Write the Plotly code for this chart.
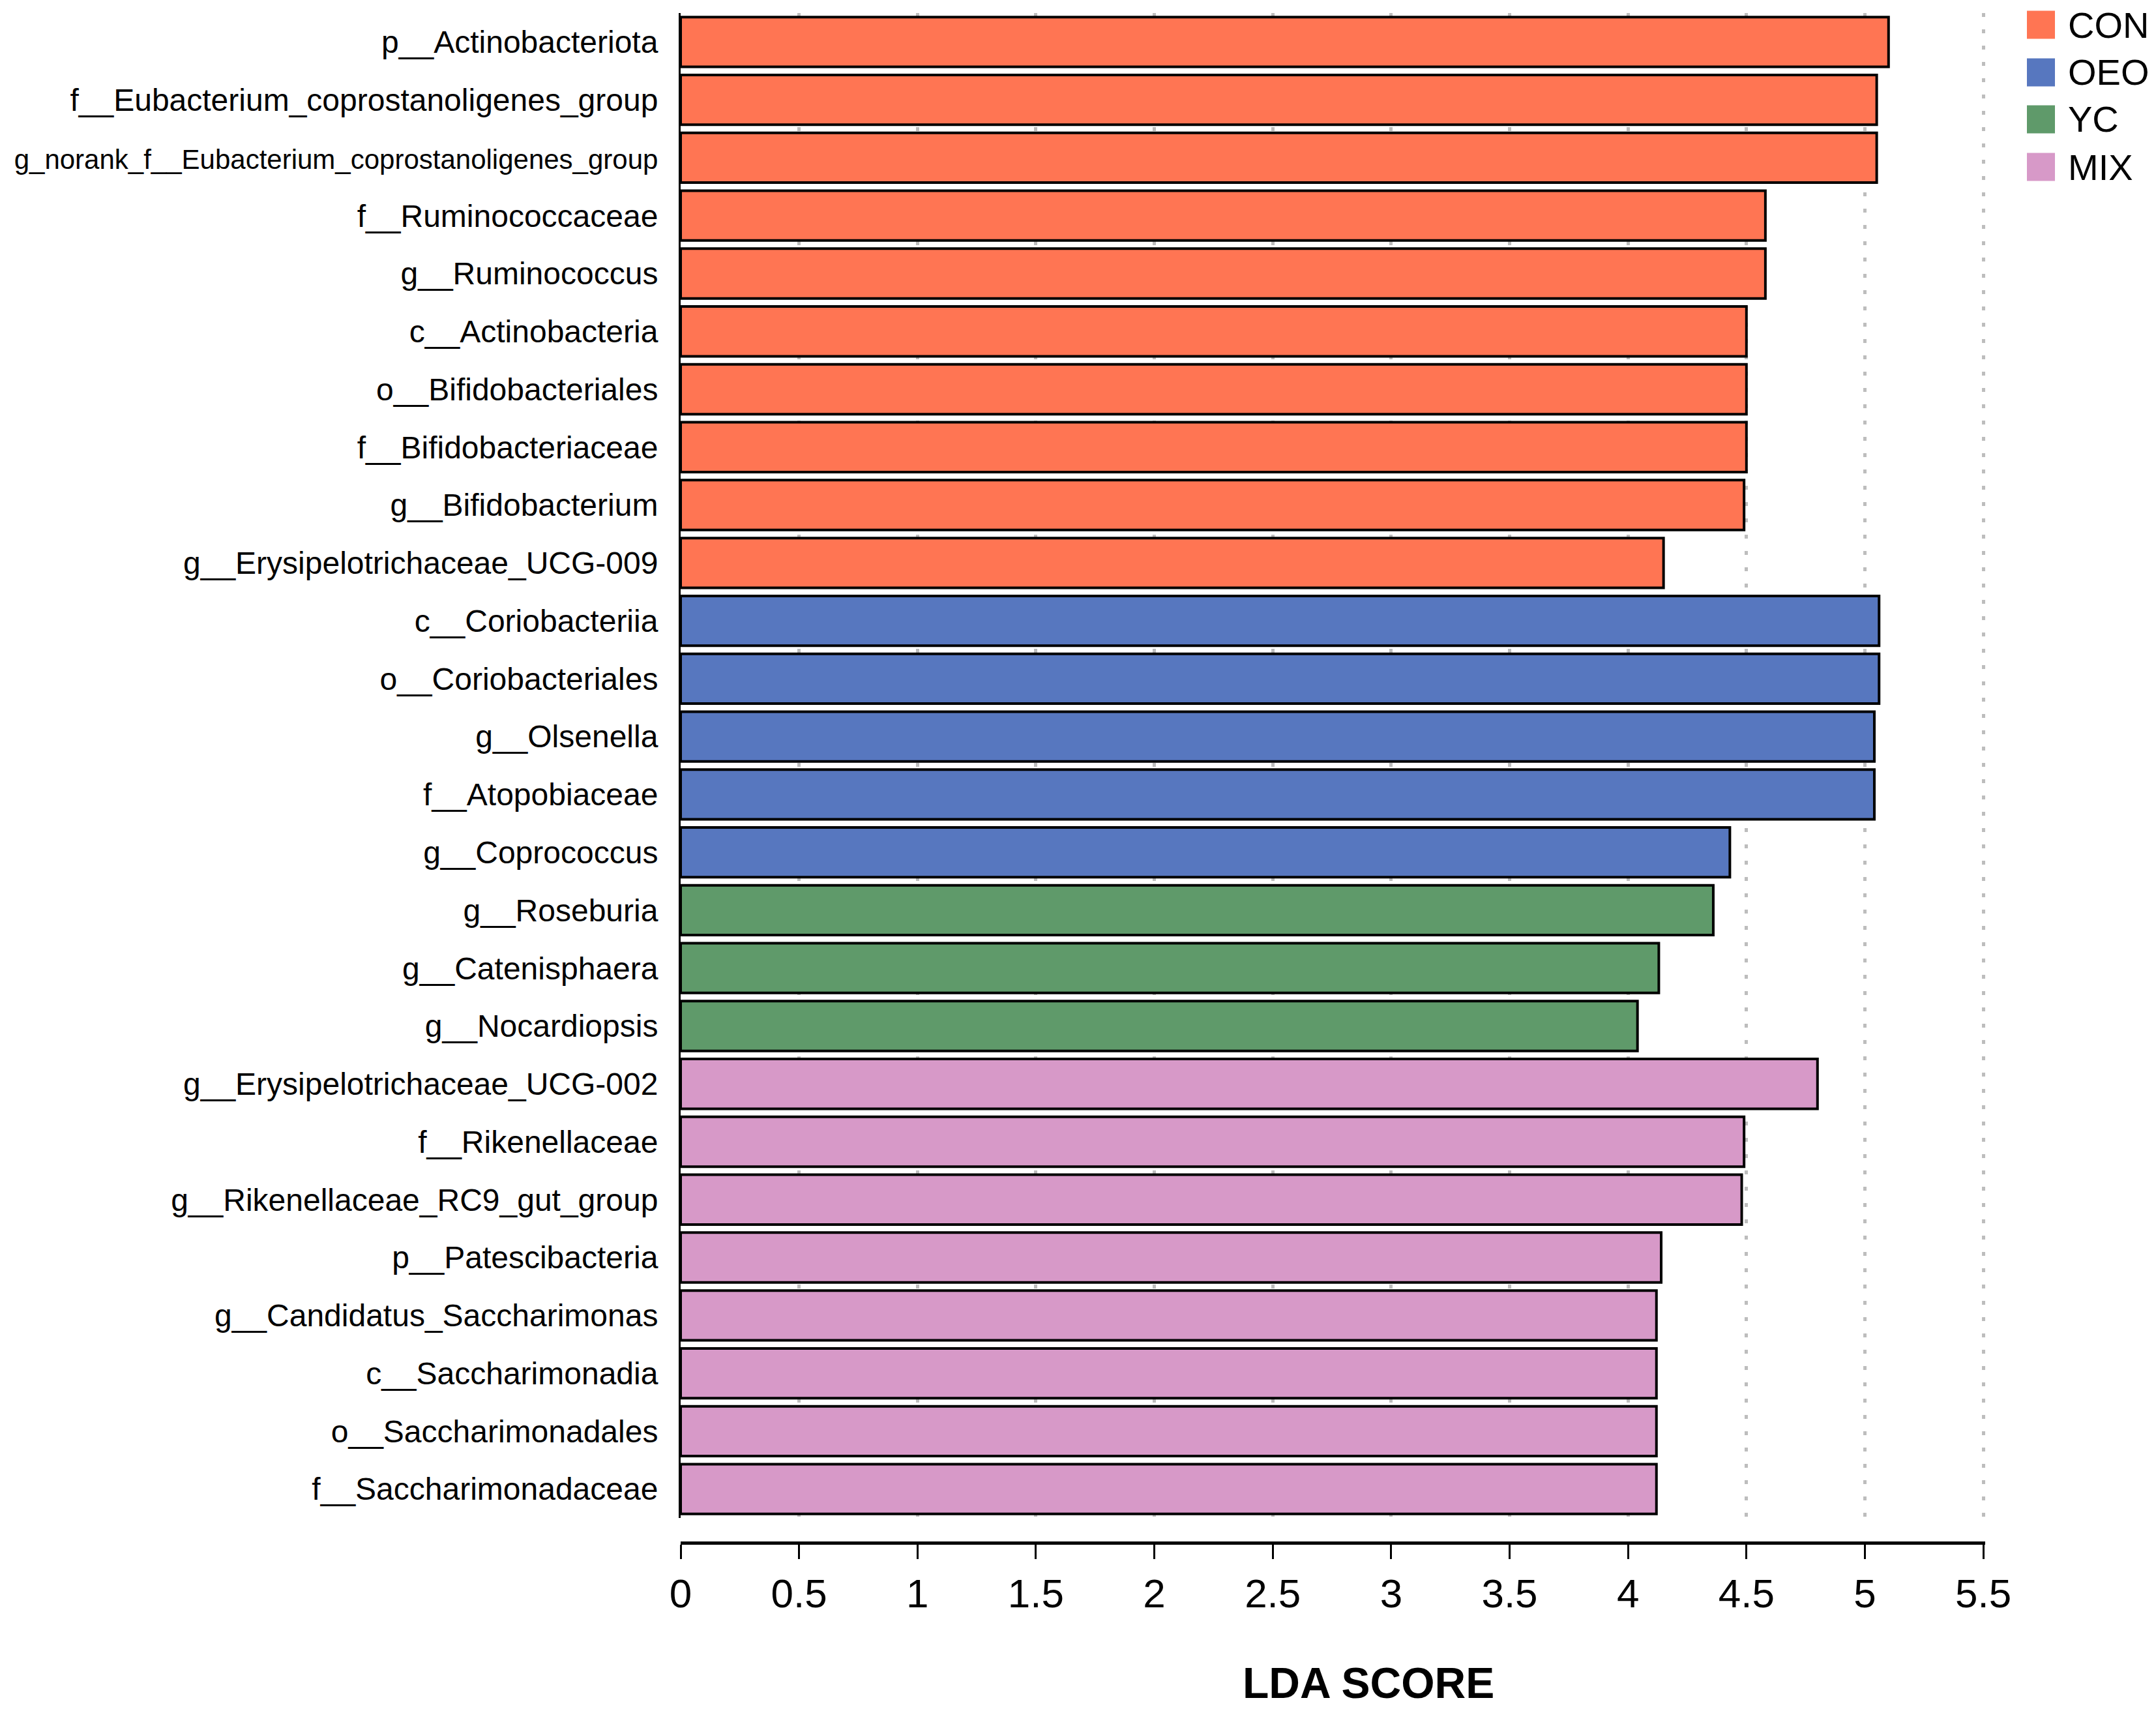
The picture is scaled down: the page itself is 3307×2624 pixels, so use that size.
import plotly.graph_objects as go

# ---- data ----
groups = ["CON", "OEO", "YC", "MIX"]
group_colors = ["#FF7553", "#5777BF", "#5F9A6A", "#D799C8"]

con_labels = ["p__Actinobacteriota", "f__Eubacterium_coprostanoligenes_group",
              "g_norank_f__Eubacterium_coprostanoligenes_group", "f__Ruminococcaceae",
              "g__Ruminococcus", "c__Actinobacteria", "o__Bifidobacteriales",
              "f__Bifidobacteriaceae", "g__Bifidobacterium", "g__Erysipelotrichaceae_UCG-009"]
con_values = [5.10, 5.05, 5.05, 4.58, 4.58, 4.50, 4.50, 4.50, 4.49, 4.15]

oeo_labels = ["c__Coriobacteriia", "o__Coriobacteriales", "g__Olsenella",
              "f__Atopobiaceae", "g__Coprococcus"]
oeo_values = [5.06, 5.06, 5.04, 5.04, 4.43]

yc_labels = ["g__Roseburia", "g__Catenisphaera", "g__Nocardiopsis"]
yc_values = [4.36, 4.13, 4.04]

mix_labels = ["g__Erysipelotrichaceae_UCG-002", "f__Rikenellaceae",
              "g__Rikenellaceae_RC9_gut_group", "p__Patescibacteria",
              "g__Candidatus_Saccharimonas", "c__Saccharimonadia",
              "o__Saccharimonadales", "f__Saccharimonadaceae"]
mix_values = [4.80, 4.49, 4.48, 4.14, 4.12, 4.12, 4.12, 4.12]

x_ticks = [0, 0.5, 1, 1.5, 2, 2.5, 3, 3.5, 4, 4.5, 5, 5.5]
x_title = "LDA SCORE"

series_labels = [con_labels, oeo_labels, yc_labels, mix_labels]
series_values = [con_values, oeo_values, yc_values, mix_values]

FONT = "Liberation Sans, Arial, sans-serif"

fig = go.Figure()
for name, color, labs, vals in zip(groups, group_colors, series_labels, series_values):
    fig.add_trace(go.Bar(
        x=vals, y=labs, orientation="h", name=name,
        marker=dict(color=color, line=dict(color="#000000", width=4)),
        width=0.86, showlegend=False,
    ))

all_labels = [l for labs in series_labels for l in labs]
tick_text = []
for l in all_labels:
    if len(l) > 40:
        tick_text.append('<span style="font-size:42px">' + l + '</span>')
    else:
        tick_text.append(l)

W, H = 3307, 2624
L, R, T, B = 1044, 262, 20, 258
x_max = x_ticks[-1] + 0.008
plot_w = W - L - R
plot_h = H - T - B
bars_bottom_px = 2328
ydom0 = (H - B - bars_bottom_px) / plot_h

fig.update_layout(
    width=W, height=H,
    margin=dict(l=L, r=R, t=T, b=B, pad=0),
    paper_bgcolor="white", plot_bgcolor="white",
    font=dict(family=FONT, color="black"),
    xaxis=dict(
        range=[0, x_max], tickmode="array", tickvals=x_ticks,
        ticktext=[("%g" % t) for t in x_ticks],
        anchor="free", position=0,
        showline=True, linecolor="black", linewidth=5,
        ticks="outside", ticklen=22, tickwidth=3, tickcolor="black",
        tickfont=dict(size=62, family=FONT, color="black"),
        showgrid=True, gridcolor="#bdbdbd", gridwidth=5, griddash="6px,19px",
        zeroline=False,
    ),
    yaxis=dict(
        domain=[ydom0, 1],
        categoryorder="array", categoryarray=all_labels,
        tickmode="array", tickvals=all_labels, ticktext=tick_text,
        autorange="reversed",
        showline=True, linecolor="black", linewidth=3,
        ticks="", ticklabelstandoff=22,
        tickfont=dict(size=48, family=FONT, color="black"),
        showgrid=False, zeroline=False,
    ),
)

# x-axis title
fig.add_annotation(
    text="<b>" + x_title + "</b>", xref="paper", yref="paper",
    x=(2099 - L) / plot_w, y=(H - B - 2581) / plot_h,
    showarrow=False, font=dict(size=66, family=FONT, color="black"),
    xanchor="center", yanchor="middle",
)

# manual legend
leg_centers_px = [38, 111, 183, 256]
sq = 43
for name, color, cy in zip(groups, group_colors, leg_centers_px):
    x0 = (3109 - L) / plot_w
    x1 = (3109 + sq - L) / plot_w
    y0 = (H - B - (cy + sq / 2)) / plot_h
    y1 = (H - B - (cy - sq / 2)) / plot_h
    fig.add_shape(type="rect", xref="paper", yref="paper", x0=x0, x1=x1, y0=y0, y1=y1,
                  fillcolor=color, line=dict(width=0))
    fig.add_annotation(text=name, xref="paper", yref="paper",
                       x=(3170 - L) / plot_w, y=(H - B - cy) / plot_h,
                       showarrow=False, xanchor="left", yanchor="middle",
                       font=dict(size=56, family=FONT, color="black"))

fig.write_html("out.html", config={"displayModeBar": False},
               post_script="document.body.style.margin='0px';document.body.style.overflow='hidden';")
